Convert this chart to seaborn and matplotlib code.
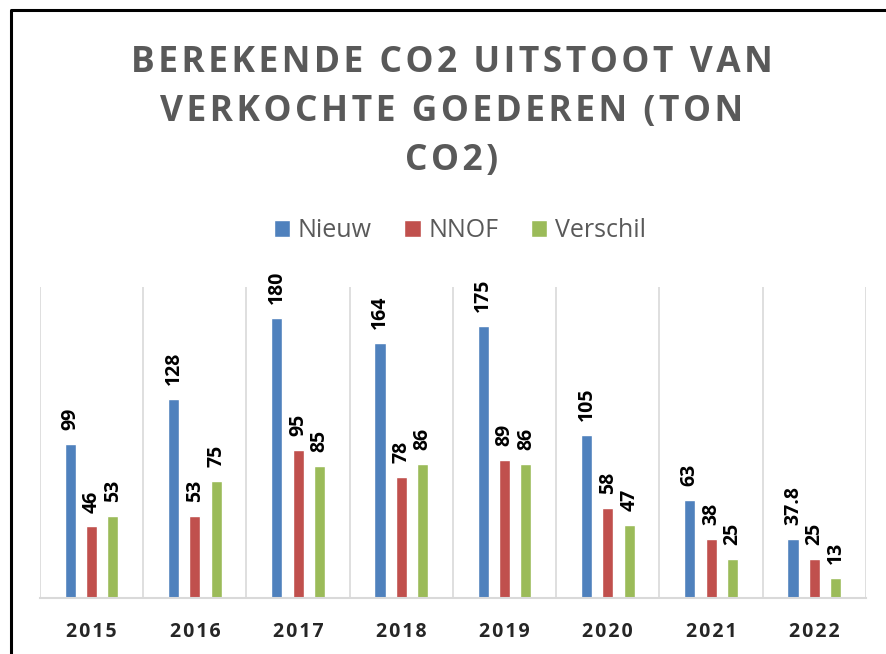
import pandas as pd
import seaborn as sns
from matplotlib import pyplot as plt
from matplotlib.lines import Line2D

years = ["2015", "2016", "2017", "2018", "2019", "2020", "2021", "2022"]
nieuw = [99, 128, 180, 164, 175, 105, 63, 37.8]
nnof = [46, 53, 95, 78, 89, 58, 38, 25]
verschil = [53, 75, 85, 86, 86, 47, 25, 13]
series = ["Nieuw", "NNOF", "Verschil"]
colors = ["#4F81BD", "#C0504D", "#9BBB59"]
title = "BEREKENDE CO2 UITSTOOT VAN\nVERKOCHTE GOEDEREN (TON\nCO2)"

df = pd.DataFrame({
    "Jaar": years * 3,
    "Serie": [s for s in series for _ in years],
    "Waarde": nieuw + nnof + verschil,
})


def spaced(s):
    # imitate the letter spacing of the original with hair spaces
    return "\n".join("\u200a".join(line) for line in s.split("\n"))


sns.set_style("white")
plt.rcParams["font.family"] = ["Open Sans", "DejaVu Sans"]

fig = plt.figure(figsize=(8.86, 6.54), dpi=100)
ax = fig.add_axes([0.0451, 0.0856, 0.9323, 0.4756])

sns.barplot(data=df, x="Jaar", y="Waarde", hue="Serie", order=years,
            hue_order=series, palette=colors, width=0.62, gap=0.48,
            saturation=1, ax=ax, legend=True)

for cont in ax.containers:
    ax.bar_label(cont, fmt="{:g}", rotation=90, padding=10,
                 fontsize=14, fontweight="bold", color="black")

ax.set_xlim(-0.5, len(years) - 0.5)
ax.set_ylim(0, 200)
ax.set_yticks([])
ax.set_xlabel("")
ax.set_ylabel("")

# vertical separators between the year groups
for i in range(len(years) + 1):
    ax.axvline(i - 0.5, color="#d9d9d9", lw=1.2, zorder=0)

ax.set_xticks(range(len(years)))
ax.set_xticklabels([spaced(y) for y in years], fontweight="bold", fontsize=14)
ax.tick_params(axis="x", length=0, pad=17)
sns.despine(ax=ax, left=True, top=True, right=True)
ax.spines["bottom"].set_color("#d9d9d9")
ax.spines["bottom"].set_linewidth(1.5)

handles, labels = ax.get_legend_handles_labels()
ax.legend(handles, labels, loc="center", bbox_to_anchor=(0.519, 0.647),
          bbox_transform=fig.transFigure, ncol=3, frameon=False,
          fontsize=18, handlelength=0.65, handleheight=0.65,
          handletextpad=0.3, columnspacing=1.3, labelcolor="#595959")

fig.text(0.51, 0.829, spaced(title),
         ha="center", va="center", fontsize=25.5, fontweight="bold",
         color="#595959", linespacing=1.47)

# chart border (left and top edges visible)
fig.add_artist(Line2D([0.0125, 0.0125, 1.0], [0.0, 0.985, 0.985],
                      transform=fig.transFigure, color="black", lw=2.2))

fig.savefig("out.png", dpi=100)
